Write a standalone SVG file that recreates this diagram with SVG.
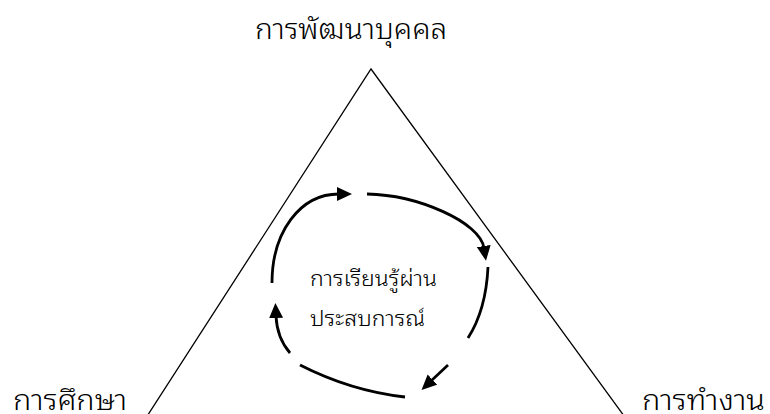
<svg xmlns="http://www.w3.org/2000/svg" width="770" height="414" viewBox="0 0 770 414">
  <style>
    .lbl { font-family: "Noto Sans Thai Looped", "Noto Sans Thai", sans-serif; fill: #000; font-weight: 300; }
    .title { font-size: 28px; }
    .inner { font-size: 22px; }
    .tri { fill: none; stroke: #000; stroke-width: 1.3; }
    .arc { fill: none; stroke: #000; stroke-width: 2.8; }
  </style>
  <defs>
    <marker id="ah" markerUnits="userSpaceOnUse" markerWidth="16" markerHeight="16" refX="2" refY="7" orient="auto">
      <path d="M0,0 L15,7 L0,14 z" fill="#000"/>
    </marker>
  </defs>
  <g id="triangle">
    <polyline class="tri" points="144.6,420 371,69 627,420"/>
  </g>
  <g id="node-top">
    <text class="lbl title" x="255" y="39" textLength="192" lengthAdjust="spacingAndGlyphs">การพัฒนาบุคคล</text>
  </g>
  <g id="node-left">
    <text class="lbl title" x="13" y="410" textLength="114" lengthAdjust="spacingAndGlyphs">การศึกษา</text>
  </g>
  <g id="node-right">
    <text class="lbl title" x="642" y="410" textLength="123" lengthAdjust="spacingAndGlyphs">การทำงาน</text>
  </g>
  <g id="node-center">
    <text class="lbl inner" x="310" y="286" textLength="127" lengthAdjust="spacingAndGlyphs">การเรียนรู้ผ่าน</text>
    <text class="lbl inner" x="310" y="326" textLength="115" lengthAdjust="spacingAndGlyphs">ประสบการณ์</text>
  </g>
  <g id="connectors">
    <path class="arc" d="M272,283 C272,232 300,194 339,194" marker-end="url(#ah)"/>
    <path class="arc" d="M367,194 C418,195 480,222 484,248" marker-end="url(#ah)"/>
    <path class="arc" d="M488,267 Q486,310 468,338"/>
    <path class="arc" d="M448,365 L431,381" marker-end="url(#ah)"/>
    <path class="arc" d="M405,397 Q351,391 300,365"/>
    <path class="arc" d="M290,353 Q277,338 276,316" marker-end="url(#ah)"/>
  </g>
</svg>
